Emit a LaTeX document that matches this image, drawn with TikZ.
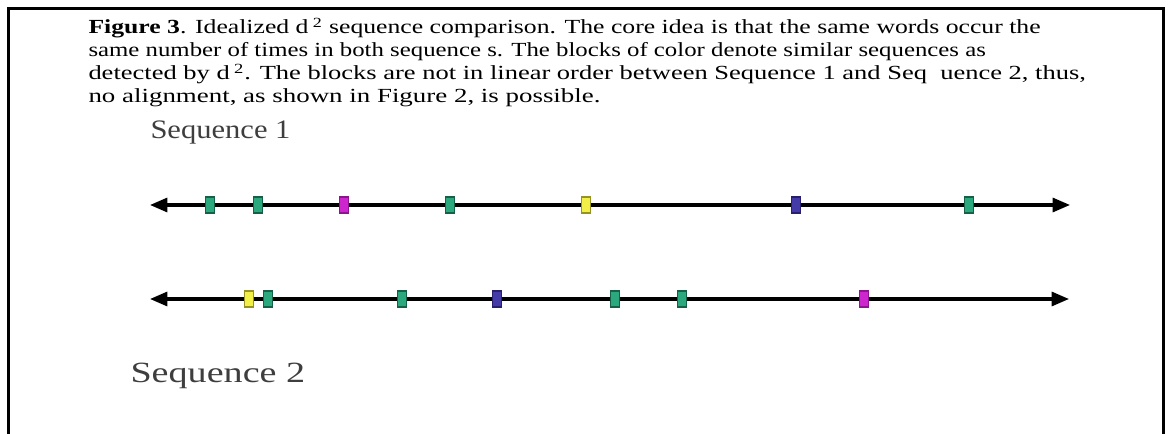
\documentclass[tikz,border=0pt]{standalone}
\usepackage{graphicx}
\usepackage{fontspec}
\setmainfont{Liberation Serif}
\usetikzlibrary{arrows.meta}

\definecolor{seqgreen}{RGB}{44,168,126}
\definecolor{seqgreendk}{RGB}{22,96,72}
\definecolor{seqmagenta}{RGB}{206,38,206}
\definecolor{seqmagentadk}{RGB}{140,20,140}
\definecolor{seqyellow}{RGB}{242,240,72}
\definecolor{seqyellowdk}{RGB}{150,146,36}
\definecolor{seqblue}{RGB}{68,58,168}
\definecolor{seqbluedk}{RGB}{40,32,110}
\definecolor{seqlabel}{RGB}{62,62,62}

% horizontally stretched line of text, as in the scanned figure
\newcommand{\wideline}[2]{\resizebox{#1}{\height}{#2}}

\tikzset{every picture/.style={line width=0.75pt}}
\tikzset{
  blk/.style={draw, line width=0.9pt, inner sep=0pt, minimum width=6.75pt, minimum height=12pt},
  gblk/.style={blk, fill=seqgreen, draw=seqgreendk},
  mblk/.style={blk, fill=seqmagenta, draw=seqmagentadk},
  yblk/.style={blk, fill=seqyellow, draw=seqyellowdk},
  bblk/.style={blk, fill=seqblue, draw=seqbluedk},
  axis/.style={line width=2.3pt, {Triangle[length=13pt,width=10.5pt]}-{Triangle[length=13pt,width=10.5pt]}},
  captxt/.style={anchor=base west, inner sep=0pt, font=\fontsize{15}{17.25}\selectfont},
  seqtxt/.style={anchor=base west, inner sep=0pt, text=seqlabel, font=\fontsize{20}{22}\selectfont}
}

\begin{document}
\begin{tikzpicture}[x=0.75pt,y=0.75pt,yscale=-1,xscale=1]
\useasboundingbox (0,0) rectangle (1169,434);

%Shape: Frame open at the bottom
\draw [line width=2.25pt] (8,434) -- (8,9) -- (1163,9) -- (1163,434) ;

% Text Node
\node [captxt] (cap1) at (88,34) {\wideline{714pt}{\textbf{Figure 3}. Idealized d\,\textsuperscript{2} sequence comparison. The core idea is that the same words occur the}};
% Text Node
\node [captxt] (cap2) at (88,57) {\wideline{673pt}{same number of times in both sequence s. The blocks of color denote similar sequences as}};
% Text Node
\node [captxt] (cap3) at (88,80) {\wideline{748pt}{detected by d\,\textsuperscript{2}. The blocks are not in linear order between Sequence 1 and Seq\ \ uence 2, thus,}};
% Text Node
\node [captxt] (cap4) at (88,103) {\wideline{384pt}{no alignment, as shown in Figure 2, is possible.}};

% Text Node
\node [seqtxt] (seq1) at (150,139) {\wideline{105pt}{Sequence 1}};
% Text Node
\node [seqtxt, font=\fontsize{22}{24}\selectfont] (seq2) at (130,382) {\wideline{131pt}{Sequence 2}};

%Straight Lines
\coordinate (s1l) at (150,205);
\coordinate (s1r) at (1070,205);
\draw [axis] (s1l) -- (s1r) ;
%Straight Lines
\coordinate (s2l) at (150,299);
\coordinate (s2r) at (1069,299);
\draw [axis] (s2l) -- (s2r) ;

% Blocks of Sequence 1
\foreach \x/\st [count=\i] in {210/gblk,258/gblk,344/mblk,450/gblk,586/yblk,796/bblk,969/gblk}
  \node [\st] (a\i) at (\x,205) {};
% Blocks of Sequence 2
\foreach \x/\st [count=\i] in {249/yblk,268/gblk,402/gblk,497/bblk,615/gblk,682/gblk,864/mblk}
  \node [\st] (b\i) at (\x,299) {};

\end{tikzpicture}
\end{document}
